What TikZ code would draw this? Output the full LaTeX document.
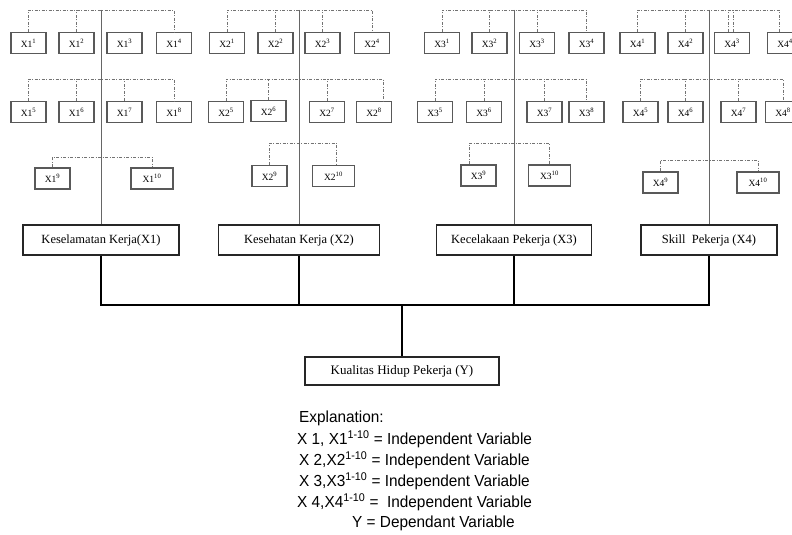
\documentclass[tikz,border=0pt]{standalone}
\usepackage{fontspec}
\setmainfont{Liberation Serif}
\newfontfamily\explfont[FakeStretch=0.96]{Liberation Sans}
\tikzset{
  sbox/.style={draw=black!65, line width=1.2pt, minimum width=35pt, minimum height=21pt, inner sep=0pt, font=\fontsize{9.5}{9.5}\selectfont},
  wbox/.style={sbox, minimum width=42pt},
  mbox/.style={draw=black!85, line width=1.2pt, minimum height=30pt, inner sep=0pt, font=\fontsize{12.5}{14}\selectfont},
  bracket/.style={draw=black!55, line width=0.7pt, dash pattern=on 3pt off 1.5pt on 1pt off 1.5pt},
  trunk/.style={draw=black!60, line width=0.9pt},
  link/.style={draw=black, line width=1.3pt},
  expl/.style={anchor=west, inner sep=0pt, font=\explfont\fontsize{16}{18}\selectfont}
}
\begin{document}
\begin{tikzpicture}[x=1pt, y=-1pt]
        \useasboundingbox (0,0) rectangle (792,535);
        \clip (0,0) rectangle (792,535);

        % Niveaux des crochets en pointillés
        \coordinate (r1) at (0,10);
        \coordinate (r2) at (0,79);
        \coordinate (h1) at (0,157);
        \coordinate (h2) at (0,143);
        \coordinate (h3) at (0,143);
        \coordinate (h4) at (0,160);
        \coordinate (hub) at (402,305);

        % Indicateurs, première ligne
        \node[sbox] (x1s1) at (28.5,43) {X1\textsuperscript{1}};
        \node[sbox] (x1s2) at (76.5,43) {X1\textsuperscript{2}};
        \node[sbox] (x1s3) at (124.5,43) {X1\textsuperscript{3}};
        \node[sbox] (x1s4) at (174,43) {X1\textsuperscript{4}};
        \node[sbox] (x2s1) at (227,43) {X2\textsuperscript{1}};
        \node[sbox] (x2s2) at (275.5,43) {X2\textsuperscript{2}};
        \node[sbox] (x2s3) at (322.5,43) {X2\textsuperscript{3}};
        \node[sbox] (x2s4) at (372,43) {X2\textsuperscript{4}};
        \node[sbox] (x3s1) at (442,43) {X3\textsuperscript{1}};
        \node[sbox] (x3s2) at (489.5,43) {X3\textsuperscript{2}};
        \node[sbox] (x3s3) at (537,43) {X3\textsuperscript{3}};
        \node[sbox] (x3s4) at (586.5,43) {X3\textsuperscript{4}};
        \node[sbox] (x4s1) at (637.5,43) {X4\textsuperscript{1}};
        \node[sbox] (x4s2) at (685.5,43) {X4\textsuperscript{2}};
        \node[sbox] (x4s3) at (732,43) {X4\textsuperscript{3}};
        \node[sbox] (x4s4) at (785,43) {X4\textsuperscript{4}};

        % Indicateurs, deuxième ligne
        \node[sbox] (x1s5) at (28.5,112) {X1\textsuperscript{5}};
        \node[sbox] (x1s6) at (76.5,112) {X1\textsuperscript{6}};
        \node[sbox] (x1s7) at (124.5,112) {X1\textsuperscript{7}};
        \node[sbox] (x1s8) at (174,112) {X1\textsuperscript{8}};
        \node[sbox] (x2s5) at (226,112) {X2\textsuperscript{5}};
        \node[sbox] (x2s6) at (268.5,111) {X2\textsuperscript{6}};
        \node[sbox] (x2s7) at (327,112) {X2\textsuperscript{7}};
        \node[sbox] (x2s8) at (374,112) {X2\textsuperscript{8}};
        \node[sbox] (x3s5) at (435,112) {X3\textsuperscript{5}};
        \node[sbox] (x3s6) at (484,112) {X3\textsuperscript{6}};
        \node[sbox] (x3s7) at (544.5,112) {X3\textsuperscript{7}};
        \node[sbox] (x3s8) at (586.5,112) {X3\textsuperscript{8}};
        \node[sbox] (x4s5) at (640.5,112) {X4\textsuperscript{5}};
        \node[sbox] (x4s6) at (685.5,112) {X4\textsuperscript{6}};
        \node[sbox] (x4s7) at (738.5,112) {X4\textsuperscript{7}};
        \node[sbox] (x4s8) at (783,112) {X4\textsuperscript{8}};

        % Indicateurs, troisième ligne
        \node[sbox] (x1s9) at (52.5,178.5) {X1\textsuperscript{9}};
        \node[wbox] (x1s10) at (152,178.5) {X1\textsuperscript{10}};
        \node[sbox] (x2s9) at (269.5,176) {X2\textsuperscript{9}};
        \node[wbox] (x2s10) at (333.5,176) {X2\textsuperscript{10}};
        \node[sbox] (x3s9) at (478.5,175.5) {X3\textsuperscript{9}};
        \node[wbox] (x3s10) at (549.5,175.5) {X3\textsuperscript{10}};
        \node[sbox] (x4s9) at (660.5,182.5) {X4\textsuperscript{9}};
        \node[wbox] (x4s10) at (758,182.5) {X4\textsuperscript{10}};

        % Variables principales
        \node[mbox, minimum width=156pt] (m1) at (101,240) {Keselamatan Kerja(X1)};
        \node[mbox, minimum width=161pt] (m2) at (299,240) {Kesehatan Kerja (X2)};
        \node[mbox, minimum width=155pt] (m3) at (514,240) {Kecelakaan Pekerja (X3)};
        \node[mbox, minimum width=136pt] (m4) at (709,240) {Skill\ \ Pekerja (X4)};
        \node[mbox, minimum width=194pt, minimum height=28pt, font=\fontsize{13}{15}\selectfont] (y) at (402,371) {Kualitas Hidup Pekerja (Y)};

        % Crochets de la première ligne
        \draw[bracket] (x1s1.north) |- (x1s4.north |- r1) -- (x1s4.north);
        \draw[bracket] (x1s2.north) -- (x1s2.north |- r1);
        \draw[bracket] (x2s1.north) |- (x2s4.north |- r1) -- (x2s4.north);
        \draw[bracket] (x2s2.north) -- (x2s2.north |- r1);
        \draw[bracket] (x2s3.north) -- (x2s3.north |- r1);
        \draw[bracket] (x3s1.north) |- (x3s4.north |- r1) -- (x3s4.north);
        \draw[bracket] (x3s2.north) -- (x3s2.north |- r1);
        \draw[bracket] (x3s3.north) -- (x3s3.north |- r1);
        \draw[bracket] (x4s1.north) |- ([xshift=-6pt]x4s4.north |- r1) -- ([xshift=-6pt]x4s4.north);
        \draw[bracket] (x4s2.north) -- (x4s2.north |- r1);
        \draw[bracket] ([xshift=-4pt]x4s3.north) -- ([xshift=-4pt]x4s3.north |- r1);
        \draw[bracket] ([xshift=1pt]x4s3.north) -- ([xshift=1pt]x4s3.north |- r1);

        % Crochets de la deuxième ligne
        \draw[bracket] (x1s5.north) |- (x1s8.north |- r2) -- (x1s8.north);
        \draw[bracket] (x1s6.north) -- (x1s6.north |- r2);
        \draw[bracket] (x1s7.north) -- (x1s7.north |- r2);
        \draw[bracket] (x2s5.north) |- ([xshift=9pt]x2s8.north |- r2) -- ([xshift=9pt]x2s8.north);
        \draw[bracket] (x2s6.north) -- (x2s6.north |- r2);
        \draw[bracket] (x2s7.north) -- (x2s7.north |- r2);
        \draw[bracket] (x3s5.north) |- (x3s8.north |- r2) -- (x3s8.north);
        \draw[bracket] (x3s6.north) -- (x3s6.north |- r2);
        \draw[bracket] (x3s7.north) -- (x3s7.north |- r2);
        \draw[bracket] (x4s5.north) |- (x4s8.north |- r2) -- (x4s8.north);
        \draw[bracket] (x4s6.north) -- (x4s6.north |- r2);
        \draw[bracket] (x4s7.north) -- (x4s7.north |- r2);

        % Crochets de la troisième ligne
        \draw[bracket] (x1s9.north) |- (x1s10.north |- h1) -- (x1s10.north);
        \draw[bracket] (x2s9.north) |- ([xshift=3pt]x2s10.north |- h2) -- ([xshift=3pt]x2s10.north);
        \draw[bracket] ([xshift=-9pt]x3s9.north) |- (x3s10.north |- h3) -- (x3s10.north);
        \draw[bracket] (x4s9.north) |- (x4s10.north |- h4) -- (x4s10.north);

        % Troncs de chaque variable
        \draw[trunk] (m1.north |- r1) -- (m1.north);
        \draw[trunk] (m2.north |- r1) -- (m2.north);
        \draw[trunk] (m3.north |- r1) -- (m3.north);
        \draw[trunk] (m4.north |- r1) -- (m4.north);

        % Liaisons vers Y
        \draw[link] (m1.south) -- (m1.south |- hub) -- (m4.south |- hub) -- (m4.south);
        \draw[link] (m2.south) -- (m2.south |- hub);
        \draw[link] (m3.south) -- (m3.south |- hub);
        \draw[link] (hub) -- (y.north);

        % Légende
        \node[expl] (e0) at (299,418) {Explanation:};
        \node[expl] (e1) at (297,439) {X 1, X1\textsuperscript{1-10} = Independent Variable};
        \node[expl] (e2) at (299,460) {X 2,X2\textsuperscript{1-10} = Independent Variable};
        \node[expl] (e3) at (299,481) {X 3,X3\textsuperscript{1-10} = Independent Variable};
        \node[expl] (e4) at (297,502) {X 4,X4\textsuperscript{1-10} =\ \ Independent Variable};
        \node[expl] (e5) at (352,523) {Y = Dependant Variable};

\end{tikzpicture}
\end{document}
